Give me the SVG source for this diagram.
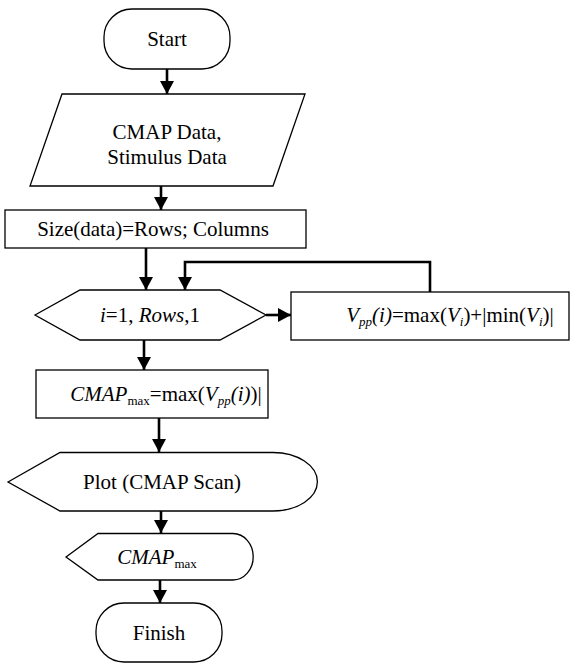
<svg xmlns="http://www.w3.org/2000/svg" width="571" height="664" viewBox="0 0 571 664">
<defs>
<style>
.s{fill:#fff;stroke:#000;stroke-width:1.3}
text{font-family:'Liberation Serif','DejaVu Serif',serif;font-size:21px;fill:#000;text-anchor:middle}
.i{font-style:italic}
.c{fill:none;stroke:#000;stroke-width:2.6}
</style>
<marker id="ah" markerUnits="userSpaceOnUse" markerWidth="14" markerHeight="14" refX="13" refY="7" orient="auto">
<path d="M0,0 L13,7 L0,14 Z" fill="#000"/>
</marker>
</defs>
<rect width="571" height="664" fill="#fff"/>
<g id="connectors">
<line class="c" x1="167" y1="69" x2="167" y2="94" marker-end="url(#ah)"/>
<line class="c" x1="161" y1="186" x2="161" y2="210" marker-end="url(#ah)"/>
<line class="c" x1="146" y1="248" x2="146" y2="290" marker-end="url(#ah)"/>
<polyline class="c" points="430,292 430,262 185,262 185,290" marker-end="url(#ah)"/>
<line class="c" x1="266" y1="315" x2="291" y2="315" marker-end="url(#ah)"/>
<line class="c" x1="144" y1="340" x2="144" y2="370" marker-end="url(#ah)"/>
<line class="c" x1="159" y1="418" x2="159" y2="452" marker-end="url(#ah)"/>
<line class="c" x1="161" y1="511" x2="161" y2="533" marker-end="url(#ah)"/>
<line class="c" x1="160" y1="580" x2="160" y2="603" marker-end="url(#ah)"/>
</g>
<g id="start">
<rect class="s" x="104" y="9" width="126" height="60" rx="28" ry="28"/>
<text font-family="Liberation Serif" x="167" y="46">Start</text>
</g>
<g id="input">
<polygon class="s" points="62,94 305,94 273,186 30,186"/>
<text font-family="Liberation Serif" x="167" y="139">CMAP Data,</text>
<text font-family="Liberation Serif" x="167" y="164">Stimulus Data</text>
</g>
<g id="size">
<rect class="s" x="5" y="210" width="301" height="38"/>
<text font-family="Liberation Serif" x="153" y="236">Size(data)=Rows; Columns</text>
</g>
<g id="loop">
<polygon class="s" points="35,315 80,290 220,290 266,315 220,340 80,340"/>
<text font-family="Liberation Serif" x="150" y="322"><tspan class="i">i</tspan>=1, <tspan class="i">Rows</tspan>,1</text>
</g>
<g id="vpp">
<rect class="s" x="291" y="292" width="278" height="48"/>
<text font-family="Liberation Serif" x="450" y="322"><tspan class="i">V</tspan><tspan class="i" font-size="13" dy="4">pp</tspan><tspan class="i" dy="-4">(i)</tspan>=max(<tspan class="i">V</tspan><tspan class="i" font-size="13" dy="4">i</tspan><tspan dy="-4">)+|min(</tspan><tspan class="i">V</tspan><tspan class="i" font-size="13" dy="4">i</tspan><tspan dy="-4">)|</tspan></text>
</g>
<g id="cmapmax">
<rect class="s" x="36" y="370" width="232" height="48"/>
<text font-family="Liberation Serif" x="166" y="401"><tspan class="i">CMAP</tspan><tspan font-size="13" dy="4">max</tspan><tspan dy="-4">=max(</tspan><tspan class="i">V</tspan><tspan class="i" font-size="13" dy="4">pp</tspan><tspan class="i" dy="-4">(i)</tspan>)|</text>
</g>
<g id="plot">
<path class="s" d="M8,482 L60,452.5 L273,452.5 A44,29 0 0 1 273,511 L60,511 Z"/>
<text font-family="Liberation Serif" x="162" y="489">Plot (CMAP Scan)</text>
</g>
<g id="output">
<path class="s" d="M66,557 L98,533.5 L233,533.5 A20,23 0 0 1 233,580 L98,580 Z"/>
<text font-family="Liberation Serif" x="157" y="564"><tspan class="i">CMAP</tspan><tspan font-size="13" dy="4">max</tspan></text>
</g>
<g id="finish">
<rect class="s" x="96" y="603" width="126" height="59" rx="28" ry="28"/>
<text font-family="Liberation Serif" x="159" y="640">Finish</text>
</g>
</svg>
